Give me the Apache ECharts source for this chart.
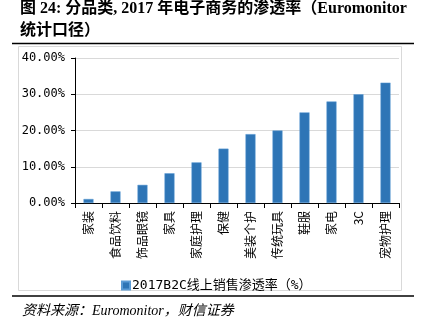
<!DOCTYPE html>
<html>
<head>
<meta charset="utf-8">
<script src="https://cdn.jsdelivr.net/npm/echarts@6/dist/echarts.min.js"></script>
<style>
  html, body { margin: 0; padding: 0; background: #fff; }
  #chart { width: 421px; height: 324px; }
</style>
</head>
<body>
<div id="chart"></div>
<script>
// Product categories on the x axis
const categories = ['家装', '食品饮料', '饰品眼镜', '家具', '家庭护理', '保健', '美装个护', '传统玩具', '鞋服', '家电', '3C', '宠物护理'];
// 2017 B2C online sales penetration, percent
const penetration = [1.1, 3.2, 5.0, 8.2, 11.2, 15.0, 19.0, 20.0, 25.0, 28.0, 30.0, 33.2];
const seriesName = '2017B2C线上销售渗透率（%）';
const titleLines = ['图 24: 分品类, 2017 年电子商务的渗透率（Euromonitor', '统计口径）'];
const sourceText = '资料来源：Euromonitor，财信证券';

const chart = echarts.init(document.getElementById('chart'), null, { renderer: 'canvas' });

const titleFont = 'bold 16px "Liberation Serif", "Noto Sans CJK SC", serif';

chart.setOption({
  animation: false,
  backgroundColor: '#ffffff',
  graphic: [
    { type: 'text', left: 20, top: 1, style: { text: titleLines[0], font: titleFont, fill: '#000' } },
    { type: 'text', left: 20, top: 23, style: { text: titleLines[1], font: titleFont, fill: '#000' } },
    { type: 'line', shape: { x1: 12, y1: 43.5, x2: 414, y2: 43.5 }, style: { stroke: '#000', lineWidth: 1.5 } },
    { type: 'rect', shape: { x: 18.5, y: 46.5, width: 383, height: 244 }, style: { fill: 'none', stroke: '#d9d9d9', lineWidth: 1 }, z: -1 },
    { type: 'line', shape: { x1: 12, y1: 296, x2: 414, y2: 296 }, style: { stroke: '#000', lineWidth: 1.5 } },
    { type: 'text', left: 22, top: 304, style: { text: sourceText, font: 'italic 14px "Liberation Serif", "Noto Sans CJK SC", serif', fill: '#000' } }
  ],
  legend: {
    data: [seriesName],
    left: 116,
    top: 274,
    itemWidth: 8,
    itemHeight: 8,
    itemGap: 4,
    icon: 'rect',
    textStyle: { fontSize: 13, color: '#000', fontFamily: '"DejaVu Sans Mono", "Noto Sans CJK SC", monospace', padding: [0, 0, 0, -3] }
  },
  grid: { left: 75, right: 22, top: 58, bottom: 121, containLabel: false },
  xAxis: {
    type: 'category',
    data: categories,
    axisLine: { lineStyle: { color: '#000', width: 1 } },
    axisTick: { show: true, alignWithLabel: false, length: 5, lineStyle: { color: '#000' } },
    axisLabel: {
      rotate: 90,
      interval: 0,
      fontSize: 12,
      color: '#000',
      margin: 8,
      fontFamily: '"Noto Sans CJK SC", sans-serif'
    }
  },
  yAxis: {
    type: 'value',
    min: 0,
    max: 40,
    interval: 10,
    axisLine: { show: true, lineStyle: { color: '#000', width: 1 } },
    axisTick: { show: true, length: 4, lineStyle: { color: '#000' } },
    splitLine: { lineStyle: { color: '#d9d9d9', width: 1 } },
    axisLabel: {
      formatter: v => v.toFixed(2) + '%',
      fontSize: 12,
      color: '#000',
      margin: 10,
      fontFamily: '"DejaVu Sans Mono", monospace'
    }
  },
  series: [{
    name: seriesName,
    type: 'bar',
    data: penetration,
    barWidth: 10,
    itemStyle: { color: '#2e75b6', borderColor: '#5b9bd5', borderWidth: 0.5 }
  }]
});
</script>
</body>
</html>
